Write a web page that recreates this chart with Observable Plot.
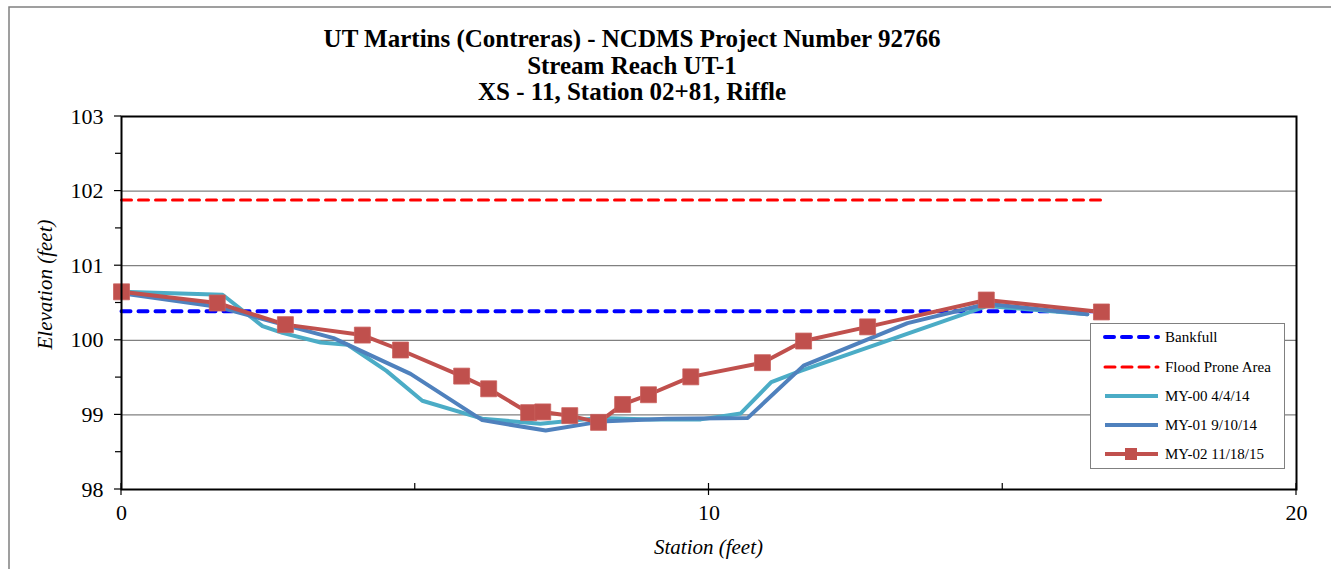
<!DOCTYPE html>
<html><head><meta charset="utf-8">
<script src="https://cdn.jsdelivr.net/npm/d3@7"></script>
<script src="https://cdn.jsdelivr.net/npm/@observablehq/plot@0.6"></script>
<style>body{margin:0;background:#fff;overflow:hidden}</style>
</head><body><div id="chart"></div>
<script>
// ---- data ----
const titleLines = ["UT Martins (Contreras) - NCDMS Project Number 92766", "Stream Reach UT-1", "XS - 11, Station 02+81, Riffle"];
const xLabel = "Station (feet)";
const yLabel = "Elevation (feet)";
const xTicks = [0, 10, 20];
const xMinorTicks = [5, 15];
const yTicks = [98, 99, 100, 101, 102, 103];
const yMinorTicks = [98.5, 99.5, 100.5, 101.5, 102.5];
const gridY = [99, 100, 101, 102];

const seriesNames = ["Bankfull", "Flood Prone Area", "MY-00 4/4/14", "MY-01 9/10/14", "MY-02 11/18/15"];
const seriesColors = ["#0000FF", "#FF0000", "#4BACC6", "#4F81BD", "#C0504D"];

const bankfullStation = [0, 16.6];
const bankfullElev = [100.39, 100.39];
const floodStation = [0, 16.75];
const floodElev = [101.88, 101.88];

const my00Station = [0, 1.72, 2.40, 2.74, 3.39, 3.85, 4.51, 5.12, 6.14, 7.13, 8.15, 9.00, 9.86, 10.54, 11.06, 11.56, 14.74, 16.44];
const my00Elev    = [100.65, 100.61, 100.19, 100.10, 99.97, 99.94, 99.59, 99.19, 98.95, 98.88, 98.96, 98.94, 98.94, 99.02, 99.44, 99.59, 100.46, 100.35];

const my01Station = [0, 1.63, 3.61, 4.92, 6.14, 7.22, 8.15, 9.29, 10.66, 11.61, 13.38, 14.74, 16.44];
const my01Elev    = [100.63, 100.45, 100.03, 99.55, 98.93, 98.79, 98.91, 98.95, 98.96, 99.66, 100.23, 100.49, 100.35];

const my02Station = [0, 1.63, 2.79, 4.10, 4.75, 5.79, 6.25, 6.93, 7.17, 7.63, 8.12, 8.53, 8.97, 9.69, 10.91, 11.61, 12.70, 14.72, 16.68];
const my02Elev    = [100.65, 100.50, 100.21, 100.07, 99.87, 99.52, 99.35, 99.03, 99.04, 98.99, 98.90, 99.14, 99.27, 99.51, 99.70, 99.99, 100.18, 100.54, 100.38];

// ---- build ----
const zip = (xs, ys) => xs.map((x, i) => ({x, y: ys[i]}));
const bankfull = zip(bankfullStation, bankfullElev);
const flood = zip(floodStation, floodElev);
const my00 = zip(my00Station, my00Elev);
const my01 = zip(my01Station, my01Elev);
const my02 = zip(my02Station, my02Elev);

const FONT = "'Liberation Serif', 'Times New Roman', Times, serif";
const W = 1331, H = 569;

const plot = Plot.plot({
  width: W, height: H,
  marginLeft: 121, marginRight: 35, marginTop: 116, marginBottom: 80,
  style: {fontFamily: FONT, fontSize: "22px", color: "#000", background: "transparent", overflow: "visible"},
  x: {domain: [0, 20], label: null},
  y: {domain: [98, 103], label: null},
  marks: [
    Plot.ruleY(gridY, {stroke: "#808080", strokeWidth: 1.2}),
    Plot.axisX(xTicks, {tickSize: 0, tickPadding: 15, fontSize: 22, label: null, fill: "#000", tickFormat: d => String(d)}),
    Plot.axisY(yTicks, {tickSize: 0, tickPadding: 18, fontSize: 22, label: null, fill: "#000", tickFormat: d => String(d)}),
    Plot.line(bankfull, {x: "x", y: "y", stroke: seriesColors[0], strokeWidth: 4, strokeDasharray: "9,8", strokeLinecap: "round"}),
    Plot.line(flood, {x: "x", y: "y", stroke: seriesColors[1], strokeWidth: 3, strokeDasharray: "10,7", strokeLinecap: "round"}),
    Plot.line(my00, {x: "x", y: "y", stroke: seriesColors[2], strokeWidth: 4}),
    Plot.line(my01, {x: "x", y: "y", stroke: seriesColors[3], strokeWidth: 4}),
    Plot.line(my02, {x: "x", y: "y", stroke: seriesColors[4], strokeWidth: 4}),
    Plot.dot(my02, {x: "x", y: "y", symbol: "square", r: 9, fill: seriesColors[4], stroke: "#c9605d", strokeWidth: 0.8}),
    Plot.frame({stroke: "#000", strokeWidth: 2})
  ]
});

document.getElementById("chart").appendChild(plot);
const svg = d3.select(plot);
const sx = plot.scale("x"), sy = plot.scale("y");
const x0 = sx.apply(0), x1 = sx.apply(20), y0 = sy.apply(98), y1 = sy.apply(103);

// outer chart border
svg.insert("path", ":first-child")
  .attr("d", `M9,${H + 5}V7H${W + 5}`)
  .attr("fill", "none").attr("stroke", "#808080").attr("stroke-width", 1.5);

const tk = svg.append("g").attr("stroke", "#000").attr("stroke-width", 1.2);
xTicks.forEach(v => tk.append("line").attr("x1", sx.apply(v)).attr("x2", sx.apply(v)).attr("y1", y0 - 6).attr("y2", y0 + 6));
xMinorTicks.forEach(v => tk.append("line").attr("x1", sx.apply(v)).attr("x2", sx.apply(v)).attr("y1", y0 - 6).attr("y2", y0));
yTicks.forEach(v => tk.append("line").attr("x1", x0 - 7).attr("x2", x0).attr("y1", sy.apply(v)).attr("y2", sy.apply(v)));
yMinorTicks.forEach(v => tk.append("line").attr("x1", x0 - 6).attr("x2", x0).attr("y1", sy.apply(v)).attr("y2", sy.apply(v)));

const txt = (g) => g.append("text").attr("font-family", FONT).attr("fill", "#000");

// titles
const tcx = 632;
const tBase = [47, 74, 100];
titleLines.forEach((t, i) => txt(svg).attr("x", tcx).attr("y", tBase[i])
  .attr("text-anchor", "middle").attr("font-weight", "bold")
  .attr("font-size", 25).text(t));

// axis labels
txt(svg).attr("x", (x0 + x1) / 2).attr("y", 554).attr("text-anchor", "middle")
  .attr("font-style", "italic").attr("font-size", 21).text(xLabel);
txt(svg).attr("transform", `translate(52,${(y0 + y1) / 2 - 18}) rotate(-90)`).attr("text-anchor", "middle")
  .attr("font-style", "italic").attr("font-size", 21).text(yLabel);

// legend
const lg = svg.append("g");
lg.append("rect").attr("x", 1090.5).attr("y", 323.5).attr("width", 194).attr("height", 145)
  .attr("fill", "#fff").attr("stroke", "#808080").attr("stroke-width", 1);
const rowY = [337, 367, 396, 425, 454];
seriesNames.forEach((name, i) => {
  const ln = lg.append("line").attr("x1", 1105).attr("x2", 1158).attr("y1", rowY[i]).attr("y2", rowY[i])
    .attr("stroke", seriesColors[i]).attr("stroke-width", i === 1 ? 3 : 4);
  if (i < 2) ln.attr("stroke-dasharray", i === 0 ? "9,8" : "10,7").attr("stroke-linecap", "round");
  if (i === 4) lg.append("rect").attr("x", 1125).attr("y", rowY[i] - 6).attr("width", 12).attr("height", 12).attr("fill", seriesColors[4]);
  txt(lg).attr("x", 1165).attr("y", rowY[i]).attr("dy", "0.35em").attr("text-anchor", "start")
    .attr("font-size", 15).text(name);
});
</script>
</body></html>
